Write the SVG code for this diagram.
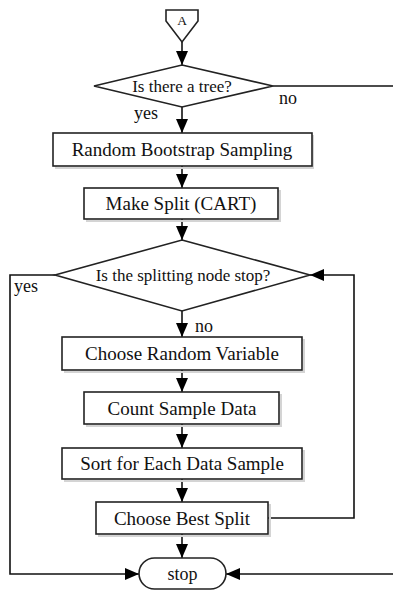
<svg xmlns="http://www.w3.org/2000/svg" width="393" height="592" viewBox="0 0 393 592">
<style>
  .box { fill: #fff; stroke: #222; stroke-width: 1.6; }
  .shadow { fill: none; stroke: #d4d4d4; stroke-width: 2; }
  .t { font-family: "Liberation Serif", "Times New Roman", serif; fill: #111; text-anchor: middle; }
  .bt { font-size: 19px; }
  .dt { font-size: 17px; }
  .lbl { font-family: "Liberation Serif", "Times New Roman", serif; fill: #111; font-size: 18px; }
  .wire { fill: none; stroke: #111; stroke-width: 1.6; }
  .arrow { marker-end: url(#ah); }
</style>
<defs>
  <marker id="ah" viewBox="0 0 14 12" refX="14" refY="6" markerWidth="14" markerHeight="12" markerUnits="userSpaceOnUse" orient="auto">
    <path d="M0,0 L14,6 L0,12 Z" fill="#000"/>
  </marker>
</defs>
<rect width="393" height="592" fill="#fff"/>

<g id="connectors">
  <line class="wire arrow" x1="182" y1="42" x2="182" y2="65"/>
  <polyline class="wire" points="273,86 393,86"/>
  <line class="wire arrow" x1="182" y1="107" x2="182" y2="133"/>
  <line class="wire arrow" x1="182" y1="166" x2="182" y2="188"/>
  <line class="wire arrow" x1="182" y1="219" x2="182" y2="240"/>
  <polyline class="wire arrow" points="55,275 10,275 10,574 139,574"/>
  <line class="wire arrow" x1="182" y1="311" x2="182" y2="337"/>
  <line class="wire arrow" x1="182" y1="370" x2="182" y2="392"/>
  <line class="wire arrow" x1="182" y1="424" x2="182" y2="448"/>
  <line class="wire arrow" x1="182" y1="479" x2="182" y2="502"/>
  <polyline class="wire arrow" points="268,518 354,518 354,275 310,275"/>
  <line class="wire arrow" x1="182" y1="534" x2="182" y2="558"/>
  <line class="wire arrow" x1="393" y1="574" x2="226" y2="574"/>
  <text class="lbl" x="279" y="104">no</text>
  <text class="lbl" x="134" y="119">yes</text>
  <text class="lbl" x="14" y="292">yes</text>
  <text class="lbl" x="195" y="332">no</text>
</g>

<g id="connector-A">
  <polygon class="box" points="166,10 198,10 198,21 182,42 166,21"/>
  <text class="t" x="182" y="25" font-size="13.5">A</text>
</g>

<g id="decision-tree">
  <polygon class="box" points="182,65 273,86 182,107 94,86"/>
  <text class="t dt" x="182" y="92">Is there a tree?</text>
</g>

<g id="bootstrap">
  <rect class="shadow" x="56" y="136" width="257" height="32"/>
  <rect class="box" x="53" y="133" width="259" height="33"/>
  <text class="t bt" x="182" y="156">Random Bootstrap Sampling</text>
</g>

<g id="make-split">
  <rect class="shadow" x="87" y="191" width="193" height="30"/>
  <rect class="box" x="84" y="188" width="194" height="31"/>
  <text class="t bt" x="181" y="210">Make Split (CART)</text>
</g>

<g id="decision-stop">
  <polygon class="box" points="182,240 310,275 182,311 55,275"/>
  <text class="t dt" x="183" y="281">Is the splitting node stop?</text>
</g>

<g id="random-variable">
  <rect class="shadow" x="65" y="340" width="239" height="32"/>
  <rect class="box" x="62" y="337" width="240" height="33"/>
  <text class="t bt" x="182" y="360">Choose Random Variable</text>
</g>

<g id="count-sample">
  <rect class="shadow" x="87" y="395" width="194" height="31"/>
  <rect class="box" x="84" y="392" width="195" height="32"/>
  <text class="t bt" x="182" y="415">Count Sample Data</text>
</g>

<g id="sort-sample">
  <rect class="shadow" x="65" y="451" width="239" height="30"/>
  <rect class="box" x="62" y="448" width="240" height="31"/>
  <text class="t bt" x="182" y="470">Sort for Each Data Sample</text>
</g>

<g id="best-split">
  <rect class="shadow" x="99" y="505" width="171" height="31"/>
  <rect class="box" x="96" y="502" width="172" height="32"/>
  <text class="t bt" x="182" y="525">Choose Best Split</text>
</g>

<g id="stop">
  <rect class="box" x="139" y="558" width="87" height="31" rx="15.5"/>
  <text class="t lbl" x="182.5" y="580" text-anchor="middle">stop</text>
</g>
</svg>
